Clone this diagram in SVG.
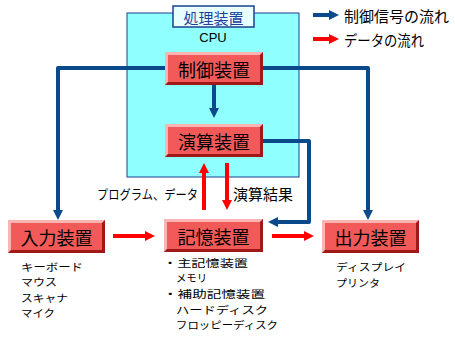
<svg xmlns="http://www.w3.org/2000/svg" width="455" height="337" viewBox="0 0 455 337">
<style>
.jp{font-family:"Noto Sans CJK JP","Noto Sans",sans-serif;fill:#000;dominant-baseline:central}
.box{font-size:18px;text-anchor:middle}
.lst{font-size:10.6px}
.blue{fill:none;stroke:#0B4A8A;stroke-width:4;stroke-linejoin:round}
.red{fill:none;stroke:#FF0000;stroke-width:4}
.face{fill:#F25A5A}
.hl{fill:#FFB4B4}
.sh{fill:#A01818}
</style>
<defs>
<marker id="ab" markerUnits="userSpaceOnUse" markerWidth="10" markerHeight="10" viewBox="0 0 10 10" refX="3" refY="5" orient="auto"><path d="M0,0 L10,5 L0,10 z" fill="#0B4A8A"/></marker>
<marker id="ar" markerUnits="userSpaceOnUse" markerWidth="10" markerHeight="10" viewBox="0 0 10 10" refX="3" refY="5" orient="auto"><path d="M0,0 L10,5 L0,10 z" fill="#FF0000"/></marker>
</defs>
<rect width="455" height="337" fill="#fff"/>
<g id="cpu">
<rect x="127" y="13" width="172" height="164" fill="#8FFFFF" stroke="#1F3F8F" stroke-width="1"/>
<rect x="173" y="6" width="81" height="21" fill="#E8FFFF" stroke="#1F3F8F" stroke-width="1.5"/>
<text class="jp" x="213.5" y="17" font-size="15" text-anchor="middle" style="fill:#1F3FA0">処理装置</text>
<text x="213" y="37" font-family="Liberation Sans,Arial,sans-serif" font-size="13" text-anchor="middle" dominant-baseline="central">CPU</text>
</g>
<g id="legend">
<path class="blue" d="M313,15 H332" marker-end="url(#ab)"/>
<text class="jp" x="344" y="15" font-size="15">制御信号の流れ</text>
<path class="red" d="M313,39 H332" marker-end="url(#ar)"/>
<text class="jp" x="344" y="39" font-size="15" textLength="80" lengthAdjust="spacingAndGlyphs">データの流れ</text>
</g>
<g id="connectors">
<path class="blue" d="M165,68 H58 V213" marker-end="url(#ab)"/>
<path class="blue" d="M263,68 H368 V213" marker-end="url(#ab)"/>
<path class="blue" d="M214,85 V111" marker-end="url(#ab)"/>
<path class="blue" d="M263,141 H309 V222 H275" marker-end="url(#ab)"/>
<path class="red" d="M113,236 H148" marker-end="url(#ar)"/>
<path class="red" d="M272,236 H307" marker-end="url(#ar)"/>
<path class="red" d="M204,210 V170" marker-end="url(#ar)"/>
<path class="red" d="M227,163 V203" marker-end="url(#ar)"/>
<text class="jp" x="198" y="193" font-size="13" text-anchor="end" textLength="101" lengthAdjust="spacingAndGlyphs">プログラム、データ</text>
<text class="jp" x="233" y="193" font-size="15">演算結果</text>
</g>
<g id="seigyo">
<rect class="face" x="165" y="52" width="98" height="33"/>
<polygon class="hl" points="165,52 263,52 260,55 168,55 168,82 165,85"/>
<polygon class="sh" points="263,52 263,85 165,85 168,82 260,82 260,55"/>
<text class="jp box" x="214" y="68.5">制御装置</text>
</g>
<g id="enzan">
<rect class="face" x="165" y="124" width="98" height="33"/>
<polygon class="hl" points="165,124 263,124 260,127 168,127 168,154 165,157"/>
<polygon class="sh" points="263,124 263,157 165,157 168,154 260,154 260,127"/>
<text class="jp box" x="214" y="140.5">演算装置</text>
</g>
<g id="nyuryoku">
<rect class="face" x="8" y="220" width="97" height="33"/>
<polygon class="hl" points="8,220 105,220 102,223 11,223 11,250 8,253"/>
<polygon class="sh" points="105,220 105,253 8,253 11,250 102,250 102,223"/>
<text class="jp box" x="56.5" y="236.5">入力装置</text>
<text class="jp lst" x="21" y="266" textLength="62" lengthAdjust="spacingAndGlyphs">キーボード</text>
<text class="jp lst" x="21" y="281.5" textLength="36" lengthAdjust="spacingAndGlyphs">マウス</text>
<text class="jp lst" x="21" y="297" textLength="47" lengthAdjust="spacingAndGlyphs">スキャナ</text>
<text class="jp lst" x="21" y="312.5" textLength="34" lengthAdjust="spacingAndGlyphs">マイク</text>
</g>
<g id="kioku">
<rect class="face" x="164" y="219" width="99" height="33"/>
<polygon class="hl" points="164,219 263,219 260,222 167,222 167,249 164,252"/>
<polygon class="sh" points="263,219 263,252 164,252 167,249 260,249 260,222"/>
<text class="jp box" x="213.5" y="235.5">記憶装置</text>
<text class="jp lst" x="163" y="262" textLength="85" lengthAdjust="spacingAndGlyphs">・主記憶装置</text>
<text class="jp lst" x="176" y="277.7" textLength="31" lengthAdjust="spacingAndGlyphs">メモリ</text>
<text class="jp lst" x="163" y="293.4" textLength="102" lengthAdjust="spacingAndGlyphs">・補助記憶装置</text>
<text class="jp lst" x="176" y="309.1" textLength="92" lengthAdjust="spacingAndGlyphs">ハードディスク</text>
<text class="jp lst" x="176" y="324.8" textLength="102" lengthAdjust="spacingAndGlyphs">フロッピーディスク</text>
</g>
<g id="shutsuryoku">
<rect class="face" x="322" y="220" width="97" height="33"/>
<polygon class="hl" points="322,220 419,220 416,223 325,223 325,250 322,253"/>
<polygon class="sh" points="419,220 419,253 322,253 325,250 416,250 416,223"/>
<text class="jp box" x="370.5" y="236.5">出力装置</text>
<text class="jp lst" x="336" y="266.5" textLength="70" lengthAdjust="spacingAndGlyphs">ディスプレイ</text>
<text class="jp lst" x="336" y="282.2" textLength="44" lengthAdjust="spacingAndGlyphs">プリンタ</text>
</g>
</svg>
